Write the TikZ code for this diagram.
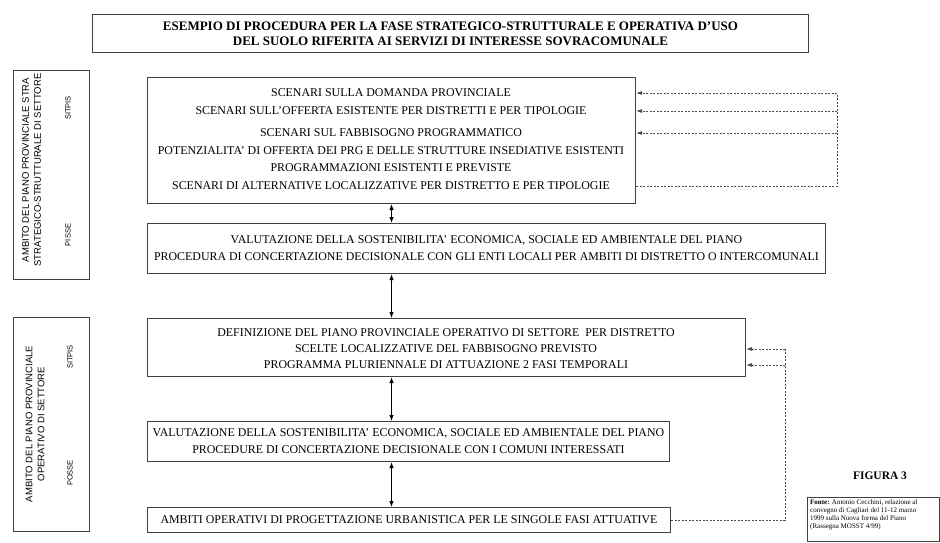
\documentclass[tikz,border=0pt]{standalone}
\usepackage{fontspec}
\setmainfont{Liberation Serif}
\newfontfamily\etichetta{Liberation Sans}
\usetikzlibrary{arrows.meta}

\tikzset{fase/.style={draw=black!75, line width=1pt, inner sep=0pt, anchor=north west},
  riga/.style={font=\fontsize{11.9}{17}\selectfont, text height=1.5ex, text depth=0pt, inner sep=0pt},
  lato/.style={font=\etichetta\fontsize{9.5}{12}\selectfont, rotate=90, align=center, inner sep=0pt},
  sigla/.style={font=\etichetta\fontsize{7.5}{9}\selectfont, rotate=90, inner sep=0pt},
  freccia/.style={line width=1pt, {Latex[length=6pt,width=4.5pt]}-{Latex[length=6pt,width=4.5pt]}},
  tratto/.style={line width=0.8pt, black!70, dash pattern=on 2pt off 1.5pt},
  punta/.style={-{Latex[length=6pt,width=4pt]}}}

\begin{document}
\begin{tikzpicture}[x=1pt, y=-1pt]
  \useasboundingbox (0,0) rectangle (940,542);
  \node[fase, minimum width=716pt, minimum height=38pt, align=center, font=\bfseries\fontsize{13}{15}\selectfont] (tit) at (92,14)
    {ESEMPIO DI PROCEDURA PER LA FASE STRATEGICO-STRUTTURALE E OPERATIVA D'USO\\DEL SUOLO RIFERITA AI SERVIZI DI INTERESSE SOVRACOMUNALE};

  \node[fase, minimum width=76pt, minimum height=209pt] (ambS) at (13,70) {};
  \node[lato] (ambS1) at (31.5,170) {AMBITO DEL PIANO PROVINCIALE STRA\\STRATEGICO-STRUTTURALE DI SETTORE};
  \node[sigla] (sitS) at (68,108) {SITPIS};   \node[sigla] (pisS) at (68,235) {PISSE};
  \node[fase, minimum width=76pt, minimum height=214pt] (ambO) at (13,317) {};
  \node[lato] (ambO1) at (35,424) {AMBITO DEL PIANO PROVINCIALE\\OPERATIVO DI SETTORE};
  \node[sigla] (sitO) at (70,357) {SITPIS};   \node[sigla] (posO) at (70,473) {POSSE};

  \node[fase, minimum width=488pt, minimum height=126pt] (scen) at (147,77) {};
  \foreach \i/\y/\t in {1/93/SCENARI SULLA DOMANDA PROVINCIALE,
      2/111/SCENARI SULL'OFFERTA ESISTENTE PER DISTRETTI E PER TIPOLOGIE,
      3/133/SCENARI SUL FABBISOGNO PROGRAMMATICO,
      4/151/POTENZIALITA' DI OFFERTA DEI PRG E DELLE STRUTTURE INSEDIATIVE ESISTENTI,
      5/168/PROGRAMMAZIONI ESISTENTI E PREVISTE,
      6/186/SCENARI DI ALTERNATIVE LOCALIZZATIVE PER DISTRETTO E PER TIPOLOGIE}
    \node[riga] (scen\i) at (391,\y) {\t};

  \node[fase, riga, minimum width=678pt, minimum height=50pt, align=center, text height=, text depth=] (val) at (147,223)
    {VALUTAZIONE DELLA SOSTENIBILITA' ECONOMICA, SOCIALE ED AMBIENTALE DEL PIANO\\PROCEDURA DI CONCERTAZIONE DECISIONALE CON GLI ENTI LOCALI PER AMBITI DI DISTRETTO O INTERCOMUNALI};

  \node[fase, minimum width=598pt, minimum height=58pt] (def) at (147,318) {};
  \foreach \i/\y/\t in {1/333/DEFINIZIONE DEL PIANO PROVINCIALE OPERATIVO DI SETTORE~ PER DISTRETTO,
      2/349/SCELTE LOCALIZZATIVE DEL FABBISOGNO PREVISTO,
      3/365/PROGRAMMA PLURIENNALE DI ATTUAZIONE 2 FASI TEMPORALI}
    \node[riga] (def\i) at (446,\y) {\t};

  \node[fase, riga, minimum width=522pt, minimum height=40pt, align=center, text height=, text depth=] (valc) at (147,421)
    {VALUTAZIONE DELLA SOSTENIBILITA' ECONOMICA, SOCIALE ED AMBIENTALE DEL PIANO\\PROCEDURE DI CONCERTAZIONE DECISIONALE CON I COMUNI INTERESSATI};
  \node[fase, riga, minimum width=523pt, minimum height=25pt, text height=, text depth=] (oper) at (147,507)
    {AMBITI OPERATIVI DI PROGETTAZIONE URBANISTICA PER LE SINGOLE FASI ATTUATIVE};

  \draw[freccia] (scen.south) -- (scen.south |- val.north);
  \draw[freccia] (scen.south |- val.south) -- (scen.south |- def.north);
  \draw[freccia] (scen.south |- def.south) -- (scen.south |- valc.north);
  \draw[freccia] (scen.south |- valc.south) -- (scen.south |- oper.north);

  \coordinate (gA) at (837,186);
  \draw[tratto] (scen.east |- scen6) -- (gA) -- (gA |- scen1);
  \foreach \i in {1,2,3} \draw[tratto, punta] (gA |- scen\i) -- (scen.east |- scen\i);
  \coordinate (gC) at (785,516);
  \draw[tratto] (oper.east) -- (gC |- oper.east) -- (gC |- def2);
  \foreach \i in {2,3} \draw[tratto, punta] (gC |- def\i) -- (def.east |- def\i);

  \node[font=\bfseries\fontsize{11.5}{13}\selectfont] (fig) at (880,476) {FIGURA 3};
  \node[fase, minimum width=132pt, minimum height=44pt] (fonte) at (807,497) {};
  \node[font=\fontsize{7}{8}\selectfont, align=left, anchor=north west, inner sep=0pt] (fontetxt) at (810,499.5)
    {\textbf{Fonte:} Antonio Cecchini, relazione al\\convegno di Cagliari del 11-12 marzo\\1999 sulla Nuova forma del Piano\\(Rassegna MOSST 4/99)};
\end{tikzpicture}
\end{document}
